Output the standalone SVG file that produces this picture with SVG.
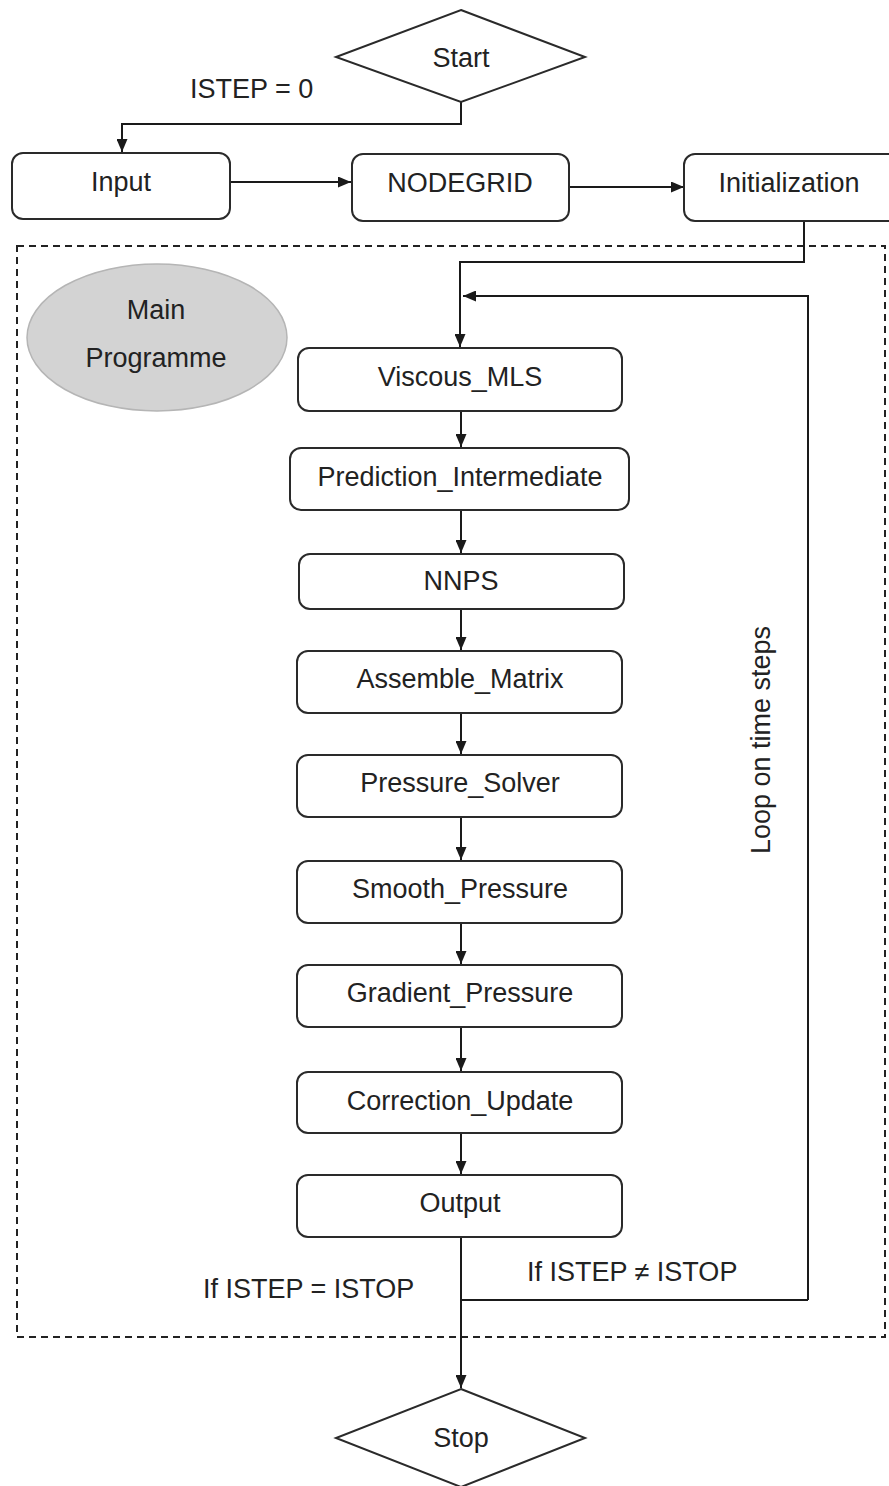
<svg xmlns="http://www.w3.org/2000/svg" width="889" height="1486" viewBox="0 0 889 1486">
<defs>
<marker id="arr" markerUnits="userSpaceOnUse" markerWidth="13" markerHeight="11" refX="13" refY="5.5" orient="auto">
<path d="M0,0 L13,5.5 L0,11 z" fill="#1a1a1a"/>
</marker>
<style>
.box{fill:#fff;stroke:#2a2a2a;stroke-width:2}
.dia{fill:#fff;stroke:#2a2a2a;stroke-width:2}
.t{font-family:"Liberation Sans",Arial,sans-serif;font-size:27px;fill:#222;text-anchor:middle}
.tl{font-family:"Liberation Sans",Arial,sans-serif;font-size:27px;fill:#222}
.c{fill:none;stroke:#1a1a1a;stroke-width:2}
.ca{fill:none;stroke:#1a1a1a;stroke-width:2;marker-end:url(#arr)}
</style>
</defs>
<rect width="889" height="1486" fill="#fff"/>
<rect id="main-frame" x="17" y="246" width="868" height="1091" fill="none" stroke="#222" stroke-width="2" stroke-dasharray="7 5"/>
<g id="main-programme">
<ellipse cx="157" cy="337.5" rx="130" ry="73.5" fill="#d3d3d3" stroke="#b5b5b5" stroke-width="1.5"/>
<text class="t" x="156" y="319">Main</text>
<text class="t" x="156" y="367">Programme</text>
</g>
<g id="connectors">
<polyline class="ca" points="461,102 461,124 122,124 122,152"/>
<line class="ca" x1="230" y1="182" x2="351" y2="182"/>
<line class="ca" x1="569" y1="187" x2="684" y2="187"/>
<polyline class="ca" points="804,221 804,262 460,262 460,347"/>
<polyline class="ca" points="808,1300 808,296 463,296"/>
<line class="ca" x1="461" y1="411" x2="461" y2="447"/>
<line class="ca" x1="461" y1="510" x2="461" y2="553"/>
<line class="ca" x1="461" y1="609" x2="461" y2="650"/>
<line class="ca" x1="461" y1="713" x2="461" y2="754"/>
<line class="ca" x1="461" y1="817" x2="461" y2="860"/>
<line class="ca" x1="461" y1="923" x2="461" y2="964"/>
<line class="ca" x1="461" y1="1027" x2="461" y2="1071"/>
<line class="ca" x1="461" y1="1133" x2="461" y2="1174"/>
<line class="ca" x1="461" y1="1237" x2="461" y2="1388"/>
<line class="c" x1="461" y1="1300" x2="808" y2="1300"/>
<text class="tl" x="190" y="98">ISTEP = 0</text>
<text class="tl" x="203" y="1298">If ISTEP = ISTOP</text>
<text class="tl" x="527" y="1281">If ISTEP ≠ ISTOP</text>
<text class="t" x="0" y="0" transform="translate(770,740) rotate(-90)">Loop on time steps</text>
</g>
<g id="start">
<polygon class="dia" points="461,10 585,57 461,102 336,57"/>
<text class="t" x="461" y="67">Start</text>
</g>
<g id="input">
<rect class="box" x="12" y="153" width="218" height="66" rx="11"/>
<text class="t" x="121" y="191">Input</text>
</g>
<g id="nodegrid">
<rect class="box" x="352" y="154" width="217" height="67" rx="11"/>
<text class="t" x="460" y="192">NODEGRID</text>
</g>
<g id="initialization">
<rect class="box" x="684" y="154" width="220" height="67" rx="11"/>
<text class="t" x="789" y="192">Initialization</text>
</g>
<g id="viscous-mls">
<rect class="box" x="298" y="348" width="324" height="63" rx="11"/>
<text class="t" x="460" y="386">Viscous_MLS</text>
</g>
<g id="prediction-intermediate">
<rect class="box" x="290" y="448" width="339" height="62" rx="11"/>
<text class="t" x="460" y="486">Prediction_Intermediate</text>
</g>
<g id="nnps">
<rect class="box" x="299" y="554" width="325" height="55" rx="11"/>
<text class="t" x="461" y="590">NNPS</text>
</g>
<g id="assemble-matrix">
<rect class="box" x="297" y="651" width="325" height="62" rx="11"/>
<text class="t" x="460" y="688">Assemble_Matrix</text>
</g>
<g id="pressure-solver">
<rect class="box" x="297" y="755" width="325" height="62" rx="11"/>
<text class="t" x="460" y="792">Pressure_Solver</text>
</g>
<g id="smooth-pressure">
<rect class="box" x="297" y="861" width="325" height="62" rx="11"/>
<text class="t" x="460" y="898">Smooth_Pressure</text>
</g>
<g id="gradient-pressure">
<rect class="box" x="297" y="965" width="325" height="62" rx="11"/>
<text class="t" x="460" y="1002">Gradient_Pressure</text>
</g>
<g id="correction-update">
<rect class="box" x="297" y="1072" width="325" height="61" rx="11"/>
<text class="t" x="460" y="1110">Correction_Update</text>
</g>
<g id="output">
<rect class="box" x="297" y="1175" width="325" height="62" rx="11"/>
<text class="t" x="460" y="1212">Output</text>
</g>
<g id="stop">
<polygon class="dia" points="461,1389 585,1438 461,1487 336,1438"/>
<text class="t" x="461" y="1447">Stop</text>
</g>
</svg>
